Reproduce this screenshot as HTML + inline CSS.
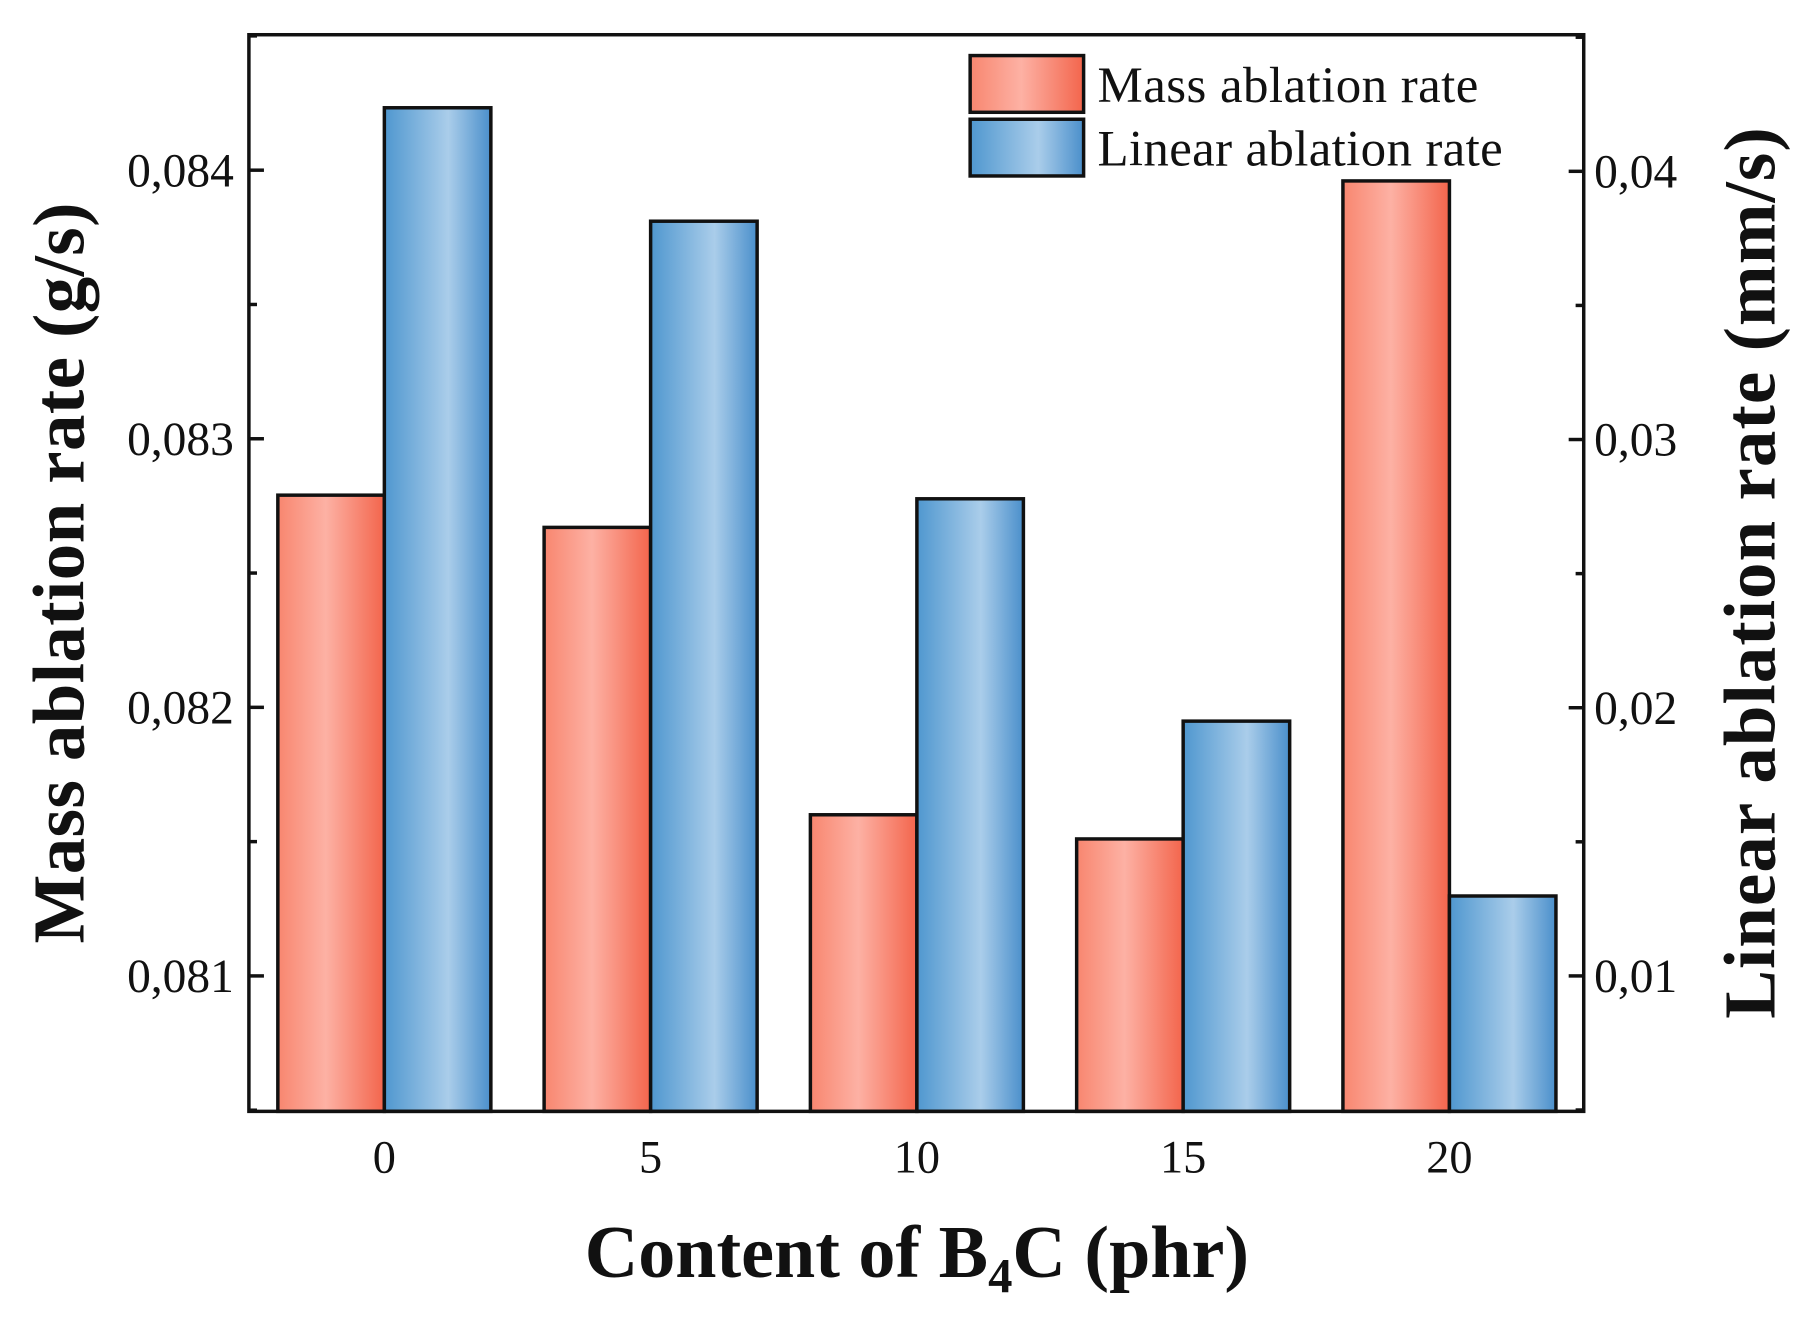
<!DOCTYPE html>
<html><head><meta charset="utf-8"><style>html,body{margin:0;padding:0;background:#fff}svg{display:block}</style></head>
<body>
<svg id="chart" width="1806" height="1326" viewBox="0 0 1560 1145.4" preserveAspectRatio="none" xmlns="http://www.w3.org/2000/svg" font-family="'Liberation Serif', serif">
<defs>
<linearGradient id="gRed" x1="0" x2="1" y1="0" y2="0"><stop offset="0" stop-color="#f8866f"/><stop offset="0.45" stop-color="#fdb1a4"/><stop offset="1" stop-color="#f3654c"/></linearGradient>
<linearGradient id="gBlue" x1="0" x2="1" y1="0" y2="0"><stop offset="0" stop-color="#4f97cf"/><stop offset="0.6" stop-color="#aacdea"/><stop offset="1" stop-color="#4a8fcb"/></linearGradient>
</defs>
<g id="bars"></g>
<g id="axes"></g>
</svg>
<script>
const categories = ['0','5','10','15','20'];
const massRate = [0.08279, 0.08267, 0.08160, 0.08151, 0.08396];
const linearRate = [0.04237, 0.03814, 0.02779, 0.0195, 0.01298];
const leftTicks = [0.081, 0.082, 0.083, 0.084];
const rightTicks = [0.01, 0.02, 0.03, 0.04];

const NS='http://www.w3.org/2000/svg';
const L=215,R=1368,T=30,B=960;
const yL=v=>843-(v-0.081)*232000;
const yR=v=>843-(v-0.01)*23167;
const xC=i=>332+230*i;
const BW=92;
function mk(tag,attrs,parent,text){const e=document.createElementNS(NS,tag);for(const k in attrs)e.setAttribute(k,attrs[k]);if(text!==undefined)e.textContent=text;parent.appendChild(e);return e;}
const bars=document.getElementById('bars'), axes=document.getElementById('axes');
categories.forEach((c,i)=>{
  const r=mk('rect',{x:xC(i)-BW,y:yL(massRate[i]),width:BW,height:B-yL(massRate[i]),fill:'url(#gRed)',stroke:'#111','stroke-width':3},bars);
  
  
  const b=mk('rect',{x:xC(i),y:yR(linearRate[i]),width:BW,height:B-yR(linearRate[i]),fill:'url(#gBlue)',stroke:'#111','stroke-width':3},bars);
  
  
  const t=mk('text',{x:xC(i),y:1013,'font-size':40,'text-anchor':'middle',fill:'#111'},axes,c);
  
  
});
const frame=mk('rect',{x:L,y:T,width:R-L,height:B-T,fill:'none',stroke:'#111','stroke-width':3},axes);


leftTicks.forEach(v=>{
  mk('line',{x1:L,x2:L+13,y1:yL(v),y2:yL(v),stroke:'#111','stroke-width':3},axes);
  mk('line',{x1:L,x2:L+7,y1:yL(v-0.0005),y2:yL(v-0.0005),stroke:'#111','stroke-width':3},axes);
  const t=mk('text',{x:202,y:yL(v)+14,'font-size':41,'text-anchor':'end',fill:'#111'},axes,v.toFixed(3).replace('.',','));
  
  
});
mk('line',{x1:L,x2:L+7,y1:yL(0.0845),y2:yL(0.0845),stroke:'#111','stroke-width':3},axes);
rightTicks.forEach(v=>{
  mk('line',{x1:R-13,x2:R,y1:yR(v),y2:yR(v),stroke:'#111','stroke-width':3},axes);
  mk('line',{x1:R-7,x2:R,y1:yR(v-0.005),y2:yR(v-0.005),stroke:'#111','stroke-width':3},axes);
  const t=mk('text',{x:1377,y:yR(v)+14,'font-size':41,'text-anchor':'start',fill:'#111'},axes,v.toFixed(2).replace('.',','));
  
  
});
mk('line',{x1:R-7,x2:R,y1:yR(0.045),y2:yR(0.045),stroke:'#111','stroke-width':3},axes);
</script>
<svg style="position:absolute;left:0;top:0" width="1806" height="1326" viewBox="0 0 1560 1145.4" preserveAspectRatio="none" xmlns="http://www.w3.org/2000/svg" font-family="'Liberation Serif', serif">
<g>
<rect x="838" y="48" width="98" height="49" fill="url(#gRed)" stroke="#111" stroke-width="3"/>
<text x="948" y="88" font-size="44" textLength="329" fill="#111">Mass ablation rate</text>
<rect x="838" y="103" width="98" height="49" fill="url(#gBlue)" stroke="#111" stroke-width="3"/>
<text x="948" y="143" font-size="44" textLength="350" fill="#111">Linear ablation rate</text>
</g>
<text transform="translate(72,495) rotate(-90)" text-anchor="middle" font-size="63" font-weight="bold" textLength="640" fill="#111">Mass ablation rate (g/s)</text>
<text transform="translate(1533,495) rotate(-90)" text-anchor="middle" font-size="63" font-weight="bold" textLength="770" fill="#111">Linear ablation rate (mm/s)</text>
<text x="792" y="1103" text-anchor="middle" font-size="64" font-weight="bold" fill="#111">Content of B<tspan font-size="42" dy="13">4</tspan><tspan dy="-13">C (phr)</tspan></text>
</svg>
</body></html>
